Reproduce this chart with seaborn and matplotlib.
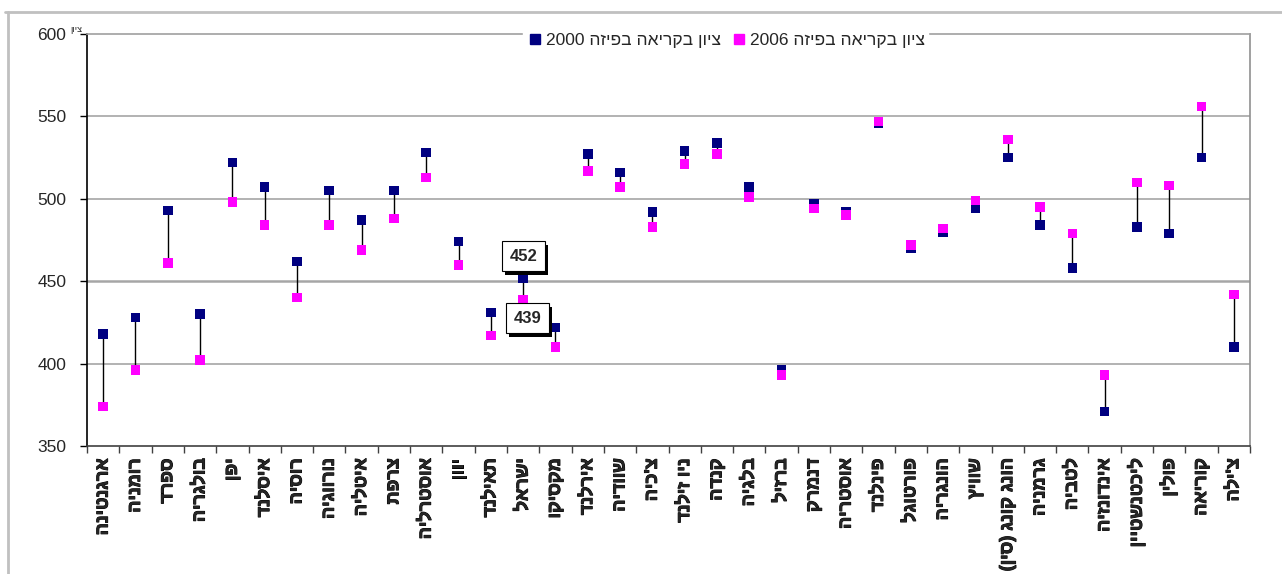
import matplotlib
matplotlib.use("Agg")
import matplotlib.pyplot as plt
import seaborn as sns
import pandas as pd
import numpy as np
from matplotlib.lines import Line2D
from matplotlib import patheffects as pe

countries = ["ארגנטינה", "רומניה", "ספרד", "בולגריה", "יפן", "איסלנד", "רוסיה",
             "נורווגיה", "איטליה", "צרפת", "אוסטרליה", "יוון", "תאילנד", "ישראל",
             "מקסיקו", "אירלנד", "שוודיה", "צ'כיה", "ניו זילנד", "קנדה", "בלגיה",
             "ברזיל", "דנמרק", "אוסטריה", "פינלנד", "פורטוגל", "הונגריה", "שוויץ",
             "הונג קונג (סין)", "גרמניה", "לטביה", "אינדונזיה", "ליכטנשטיין",
             "פולין", "קוריאה", "צ'ילה"]
score_2000 = [418, 428, 493, 430, 522, 507, 462, 505, 487, 505, 528, 474, 431, 452,
              422, 527, 516, 492, 529, 534, 507, 396, 497, 492, 546, 470, 480, 494,
              525, 484, 458, 371, 483, 479, 525, 410]
score_2006 = [374, 396, 461, 402, 498, 484, 440, 484, 469, 488, 513, 460, 417, 439,
              410, 517, 507, 483, 521, 527, 501, 393, 494, 490, 547, 472, 482, 499,
              536, 495, 479, 393, 510, 508, 556, 442]
series_names = ["ציון בקריאה בפיזה 2000", "ציון בקריאה בפיזה 2006"]
y_ticks = [350, 400, 450, 500, 550, 600]
axis_title = "ציון"


def vis(s):
    """Convert logical-order Hebrew to visual (LTR) order for matplotlib."""
    import re
    parts = re.split(r"(\d+)", s)
    out = []
    for p in parts:
        if p.isdigit():
            out.append(p)
        else:
            r = p[::-1]
            r = r.replace("(", "\x00").replace(")", "(").replace("\x00", ")")
            out.append(r)
    return "".join(out[::-1])


sns.set_theme(style="white")
plt.rcParams["font.family"] = ["Liberation Sans", "DejaVu Sans"]

NAVY = "#000080"
MAG = "#FF00FF"

df = pd.DataFrame({
    "x": list(range(len(countries))) * 2,
    "score": score_2000 + score_2006,
    "series": [series_names[0]] * len(countries) + [series_names[1]] * len(countries),
})

fig = plt.figure(figsize=(12.82, 5.74), dpi=100)
ax = fig.add_axes([87 / 1282, 1 - 446 / 574, (1250 - 87) / 1282, (446 - 34) / 574])

x = np.arange(len(countries))
ax.vlines(x, score_2000, score_2006, color="black", lw=1, zorder=2)

sns.scatterplot(data=df, x="x", y="score", hue="series",
                palette={series_names[0]: NAVY, series_names[1]: MAG},
                marker="s", s=48, edgecolor=None, linewidth=0, ax=ax,
                legend=False, zorder=3)

ax.set_xlim(-0.5, len(countries) - 0.5)
ax.set_ylim(350, 600)
ax.set_yticks(y_ticks)
ax.set_yticklabels([str(v) for v in y_ticks], fontsize=12.5)
ax.set_xticks(x)
xl = ax.set_xticklabels([vis(c) for c in countries], rotation=90, fontsize=13,
                        fontweight="bold", va="top", ha="center")
for t in xl:
    t.set_path_effects([pe.withStroke(linewidth=0.7, foreground="black")])
ax.set_xticks(np.arange(-0.5, len(countries), 1.0), minor=True)
ax.tick_params(axis="x", which="major", length=0, pad=9)
ax.tick_params(axis="x", which="minor", length=5, width=1, color="#404040", direction="out", bottom=True)
ax.tick_params(axis="y", which="major", length=5, width=1, color="black", direction="out", left=True, pad=10)
ax.set_xlabel("")
ax.set_ylabel("")

for v in y_ticks[1:-1]:
    ax.axhline(v, color="#a6a6a6", lw=1.2 if v != 450 else 1.8, zorder=1)

ax.spines["left"].set_color("black")
ax.spines["bottom"].set_color("#404040")
ax.spines["top"].set_color("#a0a0a0")
ax.spines["right"].set_color("#909090")
for sp in ax.spines.values():
    sp.set_linewidth(1.2)

# legend
handles = [Line2D([], [], marker="s", ls="none", color=NAVY, markersize=6.5),
           Line2D([], [], marker="s", ls="none", color=MAG, markersize=6.5)]
leg = ax.legend(handles, [vis(n) for n in series_names], loc="center",
                bbox_to_anchor=(0.549, 0.985), ncol=2, frameon=True,
                fontsize=12.5, handletextpad=0.15, columnspacing=0.5,
                borderpad=0.2, handlelength=1.0, borderaxespad=0)
leg.get_frame().set_facecolor("white")
leg.get_frame().set_edgecolor("white")
leg.get_frame().set_alpha(1)
leg.set_zorder(5)

# axis title (small, at top-left)
fig.text(70 / 1282, 1 - 30 / 574, vis(axis_title), fontsize=6.5, ha="left", va="center")

# data callouts for Israel
isr = countries.index("ישראל")
for val, off in [(score_2000[isr], (0, 15.5)), (score_2006[isr], (3, -13.5))]:
    t = ax.annotate(str(val), xy=(isr, val), xytext=off, textcoords="offset points",
                    ha="center", va="center", fontsize=12, fontweight="bold",
                    bbox=dict(boxstyle="square,pad=0.45", fc="white", ec="black", lw=0.8),
                    zorder=6)
    t.get_bbox_patch().set_path_effects([
        pe.SimplePatchShadow(offset=(2.5, -2.5), shadow_rgbFace="black", alpha=1),
        pe.Normal()])

# outer chart-area frame (partially visible)
fig.add_artist(Line2D([5 / 1282, 1], [1 - 12 / 574] * 2, transform=fig.transFigure,
                      color="#c0c0c0", lw=2))
fig.add_artist(Line2D([8 / 1282] * 2, [0, 1 - 12 / 574], transform=fig.transFigure,
                      color="#c0c0c0", lw=2))

fig.savefig("out.png", dpi=100, facecolor="white")
